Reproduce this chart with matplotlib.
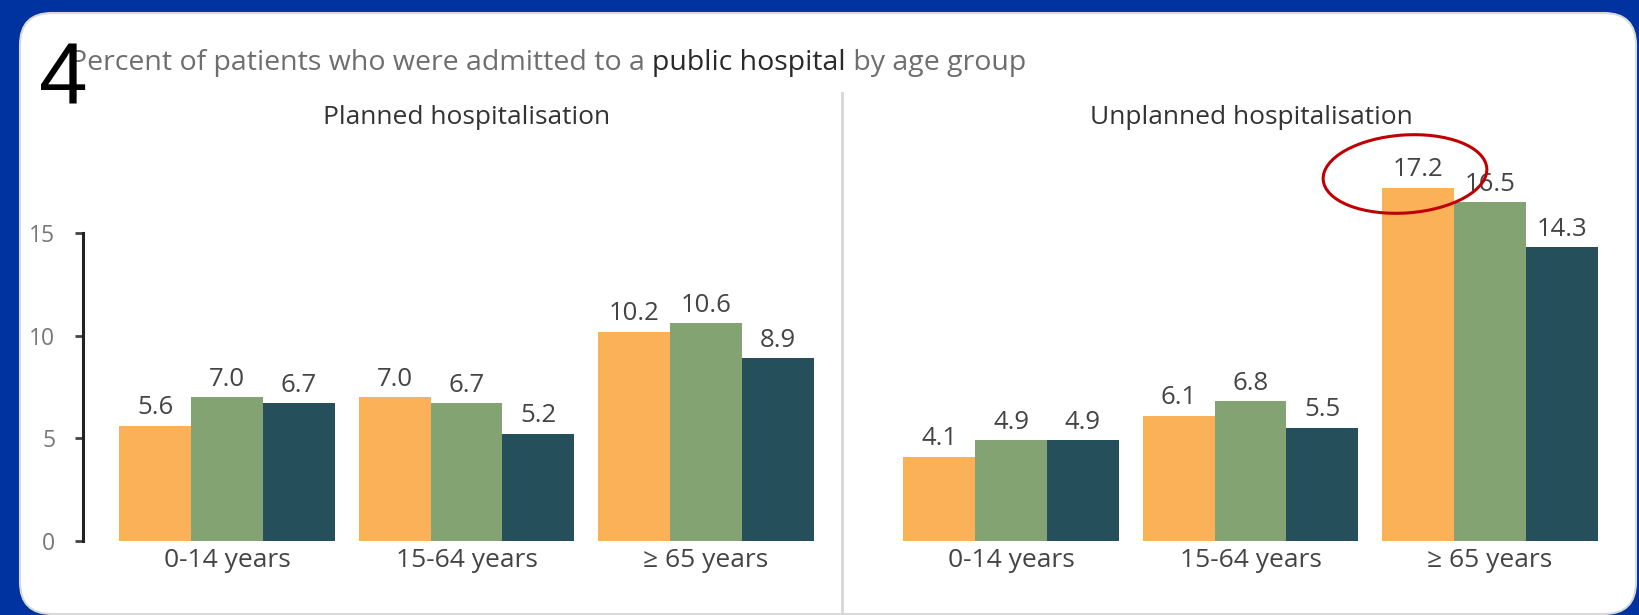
import matplotlib
matplotlib.use("Agg")
import matplotlib.pyplot as plt
from matplotlib.patches import FancyBboxPatch, Ellipse
import numpy as np

# ---- data ----
categories = ["0-14 years", "15-64 years", "\u2265 65 years"]
planned_s1 = [5.6, 7.0, 10.2]
planned_s2 = [7.0, 6.7, 10.6]
planned_s3 = [6.7, 5.2, 8.9]
unplanned_s1 = [4.1, 6.1, 17.2]
unplanned_s2 = [4.9, 6.8, 16.5]
unplanned_s3 = [4.9, 5.5, 14.3]
yticks = [0, 5, 10, 15]
panel_titles = ["Planned hospitalisation", "Unplanned hospitalisation"]

colors = ["#FAB157", "#83A372", "#244F5B"]
W, H = 1639, 615
plt.rcParams['font.family'] = ['Open Sans', 'DejaVu Sans']

fig = plt.figure(figsize=(W / 100, H / 100), dpi=100)
fig.patch.set_facecolor("#0033A0")

def px_axes(x0, y0, x1, y1, **kw):
    # pixel coords with y measured from top
    return fig.add_axes([x0 / W, 1 - y1 / H, (x1 - x0) / W, (y1 - y0) / H], **kw)

# background axes in pixel units
bg = px_axes(0, 0, W, H, zorder=0)
bg.set_xlim(0, W); bg.set_ylim(H, 0); bg.axis("off")
panel = FancyBboxPatch((20, 13), 1616, 601, boxstyle="round,pad=0,rounding_size=32",
                       facecolor="white", edgecolor="#D9D9D9", linewidth=1.5)
bg.add_patch(panel)
bg.plot([842, 842], [93, 614], color="#D6D6D6", linewidth=2)

# title in pieces
title_parts = [("Percent of patients who were admitted to a ", "#6E6E6E"),
               ("public hospital", "#2A2A2A"),
               (" by age group", "#6E6E6E")]
fig.canvas.draw()
renderer = fig.canvas.get_renderer()
texts = []
widths = []
for txt, col in title_parts:
    t = bg.text(0, 70, txt, fontsize=20.5, color=col, ha="left", va="baseline")
    widths.append(t.get_window_extent(renderer=renderer).width)
    texts.append(t)
xcur = 1026 - sum(widths)
for t, w in zip(texts, widths):
    t.set_x(xcur)
    xcur += w

bg.text(39, 104, "4", fontsize=63, family=["Liberation Sans", "DejaVu Sans"],
        color="black", ha="left", va="baseline", zorder=5)

bg.text(467, 117, panel_titles[0], fontsize=19, color="#333333", ha="center", va="center")
bg.text(1251, 117, panel_titles[1], fontsize=19, color="#333333", ha="center", va="center")

ymax = 19
x = np.arange(len(categories))
bw = 0.3

def draw_panel(ax, series, show_y):
    for i, (vals, c) in enumerate(zip(series, colors)):
        pos = x + (i - 1) * bw
        ax.bar(pos, vals, width=bw, color=c, edgecolor="none", zorder=2)
        for p, v in zip(pos, vals):
            ax.annotate(f"{v:.1f}", (p, v), xytext=(0, 8.5), textcoords="offset points",
                        ha="center", va="baseline", fontsize=18.5, color="#444444")
    ax.set_ylim(0, ymax)
    ax.set_xticks(x)
    ax.set_xticklabels(categories, fontsize=19, color="#444444")
    ax.tick_params(axis="x", length=0, pad=5)
    for s in ["top", "right", "bottom"]:
        ax.spines[s].set_visible(False)
    ax.set_facecolor("none")
    if show_y:
        ax.spines["left"].set_bounds(0, 15)
        ax.spines["left"].set_linewidth(2.2)
        ax.spines["left"].set_color("#222222")
        ax.set_yticks(yticks)
        ax.set_yticklabels([str(t) for t in yticks], fontsize=16.5, color="#777777")
        ax.tick_params(axis="y", length=6, width=2, color="#444444", pad=14)
    else:
        ax.spines["left"].set_visible(False)
        ax.set_yticks([])

ax1 = px_axes(83, 151, 820, 541, zorder=2)
draw_panel(ax1, [planned_s1, planned_s2, planned_s3], True)
ax1.set_xlim(-0.601, -0.601 + 737 / 239.5)

ax2 = px_axes(860, 151, 1620, 541, zorder=2)
draw_panel(ax2, [unplanned_s1, unplanned_s2, unplanned_s3], False)
ax2.set_xlim(-0.6305, -0.6305 + 760 / 239.5)

# overlay for the red ellipse
ov = px_axes(0, 0, W, H, zorder=10)
ov.set_xlim(0, W); ov.set_ylim(H, 0); ov.axis("off")
ov.patch.set_alpha(0)
ov.add_patch(Ellipse((1405, 174), 164, 78, angle=-4, fill=False,
                     edgecolor="#C00000", linewidth=2.2))

fig.savefig("out.png", dpi=100, facecolor=fig.get_facecolor())
